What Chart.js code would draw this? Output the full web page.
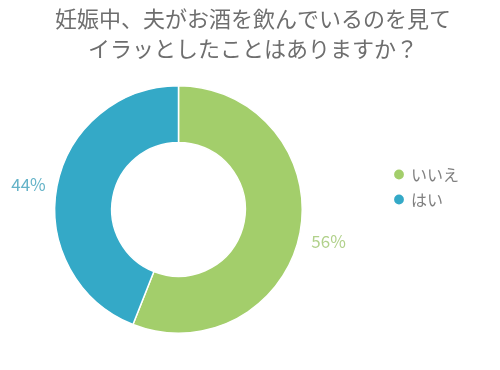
<!DOCTYPE html>
<html>
<head>
<meta charset="utf-8">
<script src="https://cdn.jsdelivr.net/npm/chart.js@4"></script>
<style>
  html, body { margin: 0; padding: 0; background: #fff; }
  #wrap { width: 500px; height: 370px; }
</style>
</head>
<body>
<div id="wrap"><canvas id="donutChart" width="500" height="370"></canvas></div>
<script>
// data
let labels = ['いいえ', 'はい'];
let values = [56, 44];
let colorHex = ['#a3ce6b', '#34a9c7'];
let labelColors = ['#b1d18b', '#64b3c8'];
let titleLines = ['妊娠中、夫がお酒を飲んでいるのを見て', 'イラッとしたことはありますか？'];

const FONT = '"Noto Sans CJK JP", "Noto Sans", sans-serif';

// percentage labels just outside each slice
const outsideLabels = {
  id: 'outsideLabels',
  afterDatasetsDraw(chart) {
    const ctx = chart.ctx;
    const meta = chart.getDatasetMeta(0);
    ctx.save();
    ctx.font = '17px ' + FONT;
    ctx.textAlign = 'center';
    ctx.textBaseline = 'middle';
    meta.data.forEach((arc, i) => {
      const p = arc.getProps(['x', 'y', 'startAngle', 'endAngle', 'outerRadius'], true);
      const mid = (p.startAngle + p.endAngle) / 2;
      const r = p.outerRadius + 29;
      ctx.fillStyle = labelColors[i];
      // noto digits sit a bit high on 'middle', nudge down
      ctx.fillText(values[i] + '%', p.x + Math.cos(mid) * r, p.y + Math.sin(mid) * r + 4);
    });
    ctx.restore();
  }
};

// doughnut sits left, legend far right, title centred on the whole canvas
const placeBoxes = {
  id: 'placeBoxes',
  beforeInit(chart) {
    const fit = chart.legend.fit;
    chart.legend.fit = function () {
      fit.call(this);
      this.width = 197;
    };
  },
  afterLayout(chart) {
    const lg = chart.legend;
    const dx = 386 - lg.left;
    const dy = 20;
    lg.left += dx; lg.right += dx;
    lg.top += dy; lg.bottom += dy;
    chart.titleBlock.left = 6;
    chart.titleBlock.right = 500;
  }
};

let ctx = document.getElementById('donutChart').getContext('2d');

let myChart = new Chart(ctx, {
  type: 'doughnut',
  data: {
    labels: labels,
    datasets: [{
      data: values,
      backgroundColor: colorHex,
      borderColor: '#ffffff',
      borderWidth: 1.5,
      hoverOffset: 0
    }]
  },
  options: {
    responsive: false,
    animation: false,
    cutout: '54%',
    layout: {
      padding: { left: 54, right: 0, top: 0, bottom: 36 }
    },
    plugins: {
      title: {
        display: true,
        text: titleLines,
        color: '#6e6e6e',
        font: { family: FONT, size: 22, weight: 'normal', lineHeight: 1.36 },
        padding: { top: 4, bottom: 21 }
      },
      legend: {
        position: 'right',
        align: 'center',
        labels: {
          usePointStyle: true,
          pointStyle: 'circle',
          boxWidth: 8,
          boxHeight: 8,
          padding: 9,
          color: '#808080',
          font: { family: FONT, size: 16 }
        }
      },
      tooltip: { enabled: false }
    }
  },
  plugins: [outsideLabels, placeBoxes]
});
</script>
</body>
</html>
